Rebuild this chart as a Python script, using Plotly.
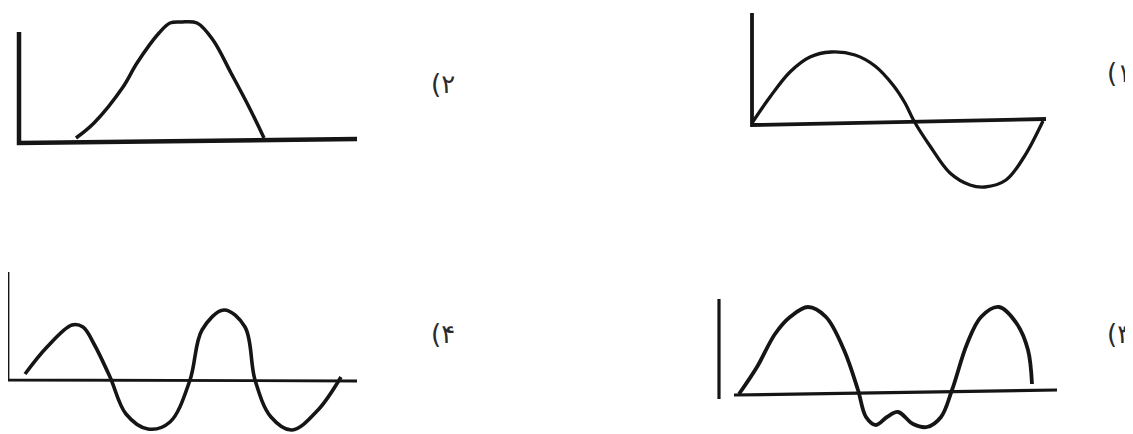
import plotly.graph_objects as go

W, H = 1133, 434
PAGE_MARGIN = 8   # default body margin of the page the figure sits in
INK = '#151515'

# panel 2 (top left) - single hump
p2_axis_x = [19, 19, 357]
p2_axis_y = [32, 143, 139]
p2_x = [76, 94, 123, 137, 159, 170, 181, 197, 213, 231, 249, 264]
p2_y = [138, 123, 87, 63, 33, 23, 22, 23, 40, 73, 107, 138]

# panel 1 (top right) - one full sine period
p1_axis_x = [752, 752, 1046]
p1_axis_y = [13, 125, 119]
p1_x = [752, 770, 790, 810, 831, 855, 875, 893, 905, 914, 930, 950, 970, 985, 1006, 1024, 1043]
p1_y = [123, 97, 72, 57, 52, 55, 66, 85, 103, 121, 146, 173, 185, 187, 180, 157, 121]

# panel 4 (bottom left) - two periods, second peak taller
p4_axis_x = [8, 8, 357]
p4_axis_y = [272, 380, 381]
p4_x = [25, 47, 72, 83, 94, 110, 126, 148, 170, 190, 202, 224, 245, 255, 271, 292, 318, 341]
p4_y = [374, 347, 325, 327, 344, 377, 414, 429, 422, 380, 330, 310, 327, 380, 417, 430, 410, 377]

# panel 3 (bottom right) - two humps with a dented trough
p3_vert_x = [719, 719]
p3_vert_y = [299, 399]
p3_horiz_x = [734, 1057]
p3_horiz_y = [395, 390]
p3_x = [739, 757, 775, 790, 808, 826, 844, 858, 866, 876, 887, 898, 913, 927, 941, 952,
        967, 981, 999, 1017, 1028, 1032]
p3_y = [394, 367, 334, 317, 307, 317, 350, 390, 417, 425, 417, 412, 424, 427, 417, 390,
        344, 317, 307, 324, 350, 384]

labels = ['(۲', '(۱', '(۴', '(۳']
label_x = [429, 1105, 429, 1105]
label_y = [84, 73, 334, 334]

fig = go.Figure()

def ink(x, y, width, spline=False):
    fig.add_scatter(x=x, y=y, mode='lines', hoverinfo='skip', showlegend=False,
                    line=dict(color=INK, width=width,
                              shape='spline' if spline else 'linear', smoothing=1.0))

ink(p2_axis_x, p2_axis_y, 4.5)
ink(p2_x, p2_y, 3.5, spline=True)

ink(p1_axis_x, p1_axis_y, 3.8)
ink(p1_x, p1_y, 3.3, spline=True)

ink(p4_axis_x, p4_axis_y, 2.8)
ink(p4_x, p4_y, 3.6, spline=True)

ink(p3_vert_x, p3_vert_y, 3.2)
ink(p3_horiz_x, p3_horiz_y, 3.2)
ink(p3_x, p3_y, 3.8, spline=True)

for txt, lx, ly in zip(labels, label_x, label_y):
    fig.add_annotation(text=txt, x=lx, y=ly, xref='x', yref='y', showarrow=False,
                       xanchor='left', yanchor='middle',
                       font=dict(family='DejaVu Sans', size=26, color='#2a2a2a'))

# shift the ranges so that one data unit lands on one page pixel
fig.update_xaxes(range=[PAGE_MARGIN, W + PAGE_MARGIN], visible=False, fixedrange=True)
fig.update_yaxes(range=[H + PAGE_MARGIN, PAGE_MARGIN], visible=False, fixedrange=True)
fig.update_layout(width=W, height=H, autosize=False,
                  margin=dict(l=0, r=0, t=0, b=0),
                  paper_bgcolor='white', plot_bgcolor='white')
fig.write_html("out.html")
